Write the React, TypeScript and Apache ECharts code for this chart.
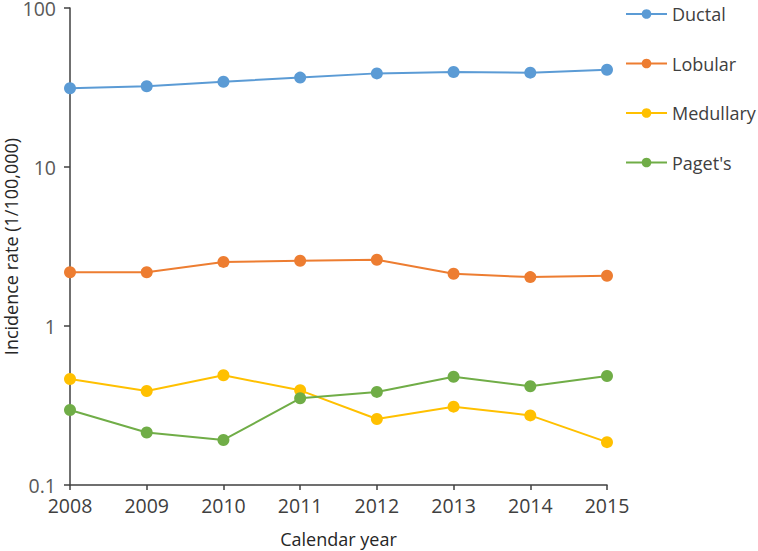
import React, { useEffect, useRef } from "react";
import * as echarts from "echarts";

const years = ["2008", "2009", "2010", "2011", "2012", "2013", "2014", "2015"];
const ductal = [31.3, 32.2, 34.4, 36.5, 38.8, 39.6, 39.2, 40.9];
const lobular = [2.18, 2.18, 2.53, 2.57, 2.61, 2.13, 2.03, 2.07];
const medullary = [0.464, 0.39, 0.49, 0.394, 0.26, 0.311, 0.274, 0.186];
const pagets = [0.296, 0.214, 0.192, 0.351, 0.385, 0.48, 0.418, 0.485];

const seriesNames = ["Ductal", "Lobular", "Medullary", "Paget's"];
const seriesData = [ductal, lobular, medullary, pagets];
const colors = ["#5B9BD5", "#ED7D31", "#FFC000", "#70AD47"];

const FONT = "'Open Sans', 'Noto Sans', sans-serif";

export default function App() {
  const ref = useRef<HTMLDivElement>(null);
  useEffect(() => {
    if (!ref.current) return;
    const chart = echarts.init(ref.current, null, { renderer: "svg" });
    chart.setOption({
      animation: false,
      textStyle: { fontFamily: FONT },
      grid: {
        left: 70,
        right: 151,
        top: 8,
        bottom: 66,
        containLabel: false,
        outerBoundsMode: "none",
      },
      legend: {
        orient: "vertical",
        left: 625,
        top: 3,
        padding: 0,
        itemWidth: 41,
        itemHeight: 12,
        itemGap: 27.5,
        data: seriesNames,
        textStyle: { fontSize: 18, lineHeight: 22, color: "#404040", fontFamily: FONT },
      },
      xAxis: {
        type: "category",
        data: years,
        boundaryGap: false,
        name: "Calendar year",
        nameLocation: "middle",
        nameGap: 45,
        nameMoveOverlap: false,
        nameTextStyle: { fontSize: 18, color: "#262626", fontFamily: FONT },
        axisLine: { lineStyle: { color: "#404040", width: 1.5 } },
        axisTick: { show: true, length: 5, lineStyle: { color: "#404040", width: 1.5 } },
        axisLabel: { fontSize: 19.5, color: "#404040", margin: 10, fontFamily: FONT },
        splitLine: { show: false },
      },
      yAxis: {
        type: "log",
        logBase: 10,
        min: 0.1,
        max: 100,
        name: "Incidence rate (1/100,000)",
        nameLocation: "middle",
        nameGap: 50,
        nameMoveOverlap: false,
        nameTextStyle: { fontSize: 18, color: "#262626", fontFamily: FONT },
        axisLine: { show: true, lineStyle: { color: "#404040", width: 1.5 } },
        axisTick: { show: true, length: 6, lineStyle: { color: "#404040", width: 1.5 } },
        axisLabel: {
          fontSize: 19.5,
          lineHeight: 15,
          color: "#595959",
          margin: 14,
          fontFamily: FONT,
          formatter: (v: number) => String(Number(v.toPrecision(3))),
        },
        splitLine: { show: false },
      },
      series: seriesNames.map((name, i) => ({
        name,
        type: "line",
        data: seriesData[i],
        symbol: "circle",
        symbolSize: 12,
        color: colors[i],
        lineStyle: { width: 2, color: colors[i] },
        itemStyle: { color: colors[i] },
      })),
    });
    return () => chart.dispose();
  }, []);
  return <div ref={ref} style={{ width: 758, height: 551, position: "absolute", left: 0, top: 0 }} />;
}
